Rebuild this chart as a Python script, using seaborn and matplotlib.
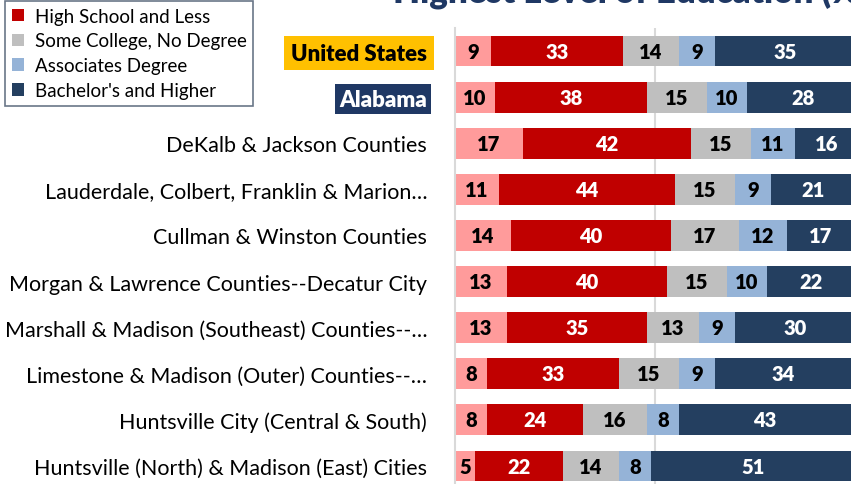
import pandas as pd
import matplotlib.pyplot as plt
import seaborn as sns
from matplotlib.patches import Patch

# data (percent of adults 25+)
regions = [
    "United States",
    "Alabama",
    "DeKalb & Jackson Counties",
    "Lauderdale, Colbert, Franklin & Marion…",
    "Cullman & Winston Counties",
    "Morgan & Lawrence Counties--Decatur City",
    "Marshall & Madison (Southeast) Counties--…",
    "Limestone & Madison (Outer) Counties--…",
    "Huntsville City (Central & South)",
    "Huntsville (North) & Madison (East) Cities",
]
less_than_hs = [9, 10, 17, 11, 14, 13, 13, 8, 8, 5]
high_school = [33, 38, 42, 44, 40, 40, 35, 33, 24, 22]
some_college = [14, 15, 15, 15, 17, 15, 13, 15, 16, 14]
associates = [9, 10, 11, 9, 12, 10, 9, 9, 8, 8]
bachelors = [35, 28, 16, 21, 17, 22, 30, 34, 43, 51]

series = ["Less than High School", "High School and Less", "Some College, No Degree",
          "Associates Degree", "Bachelor's and Higher"]
colors = ["#FF9B9B", "#C00000", "#BFBFBF", "#95B3D7", "#243F60"]
text_colors = ["black", "white", "black", "black", "white"]

df = pd.DataFrame({
    "Region": regions,
    series[0]: less_than_hs,
    series[1]: high_school,
    series[2]: some_college,
    series[3]: associates,
    series[4]: bachelors,
})

# cumulative ends for the stacking trick
cum = df[series].cumsum(axis=1)

plt.rcParams["font.family"] = ["Lato", "DejaVu Sans"]

fig = plt.figure(figsize=(8.51, 4.85), dpi=100)
ax = fig.add_axes([455 / 851, 0.0, 396 / 851, 456 / 485])

# draw from the longest cumulative bar down so each shorter one covers it
for i in range(len(series) - 1, -1, -1):
    sns.barplot(x=cum[series[i]], y=df["Region"], orient="h", color=colors[i],
                width=0.67, saturation=1, ax=ax, linewidth=0)

# value labels in the middle of each segment
for r in range(len(df)):
    start = 0
    for i, s in enumerate(series):
        v = df.loc[r, s]
        ax.text(start + v / 2, r, f"{v}", ha="center", va="center",
                fontsize=14.5, fontweight="heavy", color=text_colors[i])
        start += v

ax.set_xlim(0, 99)
ax.set_ylim(9.39, -0.5)
ax.axvline(50, color="#D9D9D9", lw=1.5, zorder=0)
ax.set_xlabel("")
ax.set_ylabel("")
ax.set_xticks([])
for side in ["top", "right", "bottom"]:
    ax.spines[side].set_visible(False)
ax.spines["left"].set_color("#D9D9D9")
ax.spines["left"].set_linewidth(1.5)

ax.tick_params(axis="y", length=0, pad=20, labelsize=15.5)
for lbl in ax.get_yticklabels():
    if lbl.get_text() == "United States":
        lbl.set_fontweight("heavy")
        lbl.set_fontsize(16)
        lbl.set_bbox(dict(facecolor="#FFC000", edgecolor="none", pad=5))
    elif lbl.get_text() == "Alabama":
        lbl.set_fontweight("heavy")
        lbl.set_fontsize(16)
        lbl.set_color("white")
        lbl.set_bbox(dict(facecolor="#1F3864", edgecolor="none", pad=3))

# title, mostly cut off by the top edge as in the source
fig.text(393 / 851, 1 - 4 / 485, "Highest Level of Education (%)", ha="left",
         va="baseline", fontsize=25, fontweight="heavy", color="#1F3864")

handles = [Patch(facecolor=c) for c in colors[1:]]
leg = fig.legend(handles, series[1:], loc="upper left",
                 bbox_to_anchor=(5 / 851, 1 - 2 / 485), frameon=True, fancybox=False,
                 fontsize=13.5, handlelength=0.65, handleheight=0.65, handletextpad=0.6,
                 labelspacing=0.42, borderpad=0.35, borderaxespad=0)
leg.get_frame().set_edgecolor("#44546A")
leg.get_frame().set_linewidth(1.2)

fig.savefig("out.png", dpi=100)
